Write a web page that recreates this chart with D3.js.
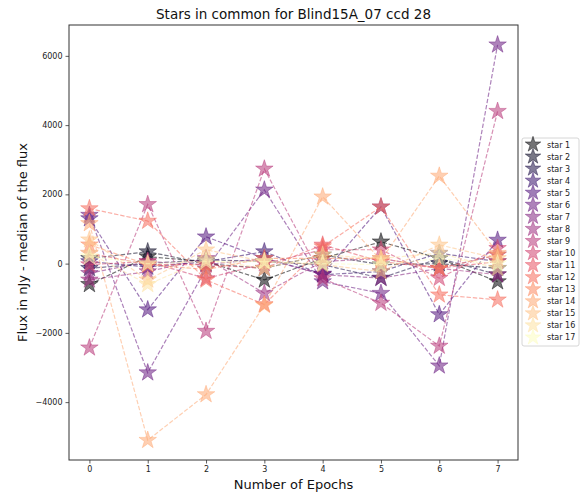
<!DOCTYPE html>
<html>
<head>
<meta charset="utf-8">
<script src="https://cdn.jsdelivr.net/npm/d3@7"></script>
<style>
  body { margin: 0; background: #fff; }
  text { font-family: "DejaVu Sans", sans-serif; }
</style>
</head>
<body>
<div id="chart"></div>
<script>
// epochs on the x axis
var epochs = [0, 1, 2, 3, 4, 5, 6, 7];
var starNames = ["star 1", "star 2", "star 3", "star 4", "star 5", "star 6", "star 7", "star 8", "star 9",
  "star 10", "star 11", "star 12", "star 13", "star 14", "star 15", "star 16", "star 17"];
var yTicks = [-4000, -2000, 0, 2000, 4000, 6000];

// flux - median, one array per star
var star1  = [-600, 200, 60, -470, 150, 630, 150, -520];
var star2  = [150, 345, 0, -135, 250, -30, 0, -135];
var star3  = [-135, 0, 115, 60, -30, -420, 150, -320];
var star4  = [60, -100, 60, 345, -320, -230, 300, 60];
var star5  = [1300, -1330, 775, 150, -300, 1640, -1470, 680];
var star6  = [1400, -3150, -150, 2130, -520, -855, -2950, 6320];
var star7  = [-280, 60, -30, 150, -320, -420, -135, 250];
var star8  = [-470, -230, 150, -855, 60, 150, -135, -320];
var star9  = [-2430, 1710, -1950, 2735, -430, -1140, -2380, 4400];
var star10 = [-30, 60, -430, 0, 400, 400, -420, 440];
var star11 = [300, -30, -30, -135, 540, 60, -135, 60];
var star12 = [1590, 1230, -470, -1180, 490, 1640, -900, -1045];
var star13 = [545, -30, -170, 150, 150, 150, -135, 250];
var star14 = [1160, -5100, -3780, -1200, 1930, 100, 2530, 300];
var star15 = [690, -470, 400, 60, -30, -230, 540, 150];
var star16 = [300, -600, 115, -135, 250, 150, 300, -135];
var star17 = [200, 0, 60, 60, 0, -30, 150, 0];

var fluxes = [star1, star2, star3, star4, star5, star6, star7, star8, star9,
  star10, star11, star12, star13, star14, star15, star16, star17];

(function drawChart () {
  var W = 587, H = 500;
  var margin = {top: 25, right: 69, bottom: 40, left: 69};
  var w = W - margin.left - margin.right;   // 449
  var h = H - margin.top - margin.bottom;   // 435

  var svg = d3.select("#chart").append("svg")
    .attr("width", W).attr("height", H);

  // matplotlib style autoscale: 5% padding on both sides
  var allVals = d3.merge(fluxes);
  var yMin = d3.min(allVals), yMax = d3.max(allVals);
  var pad = (yMax - yMin) * 0.05;

  var xScale = d3.scaleLinear()
    .domain([-0.35, 7.35])
    .range([0, w]);
  var yScale = d3.scaleLinear()
    .domain([yMin - pad, yMax + pad])
    .range([h, 0]);

  var colour = function (i) { return d3.interpolateMagma(i / (fluxes.length - 1)); };

  var g = svg.append("g")
    .attr("transform", "translate(" + margin.left + "," + margin.top + ")");

  g.append("clipPath").attr("id", "plotclip")
    .append("rect").attr("width", w).attr("height", h);

  var line = d3.line()
    .x(function (d, i) { return xScale(epochs[i]); })
    .y(function (d) { return yScale(d); });

  var star = d3.symbol().type(d3.symbolStar).size(95);

  var plot = g.append("g").attr("clip-path", "url(#plotclip)");

  fluxes.forEach(function (series, k) {
    var c = colour(k);
    var sg = plot.append("g");
    sg.append("path")
      .datum(series)
      .attr("d", line)
      .attr("fill", "none")
      .attr("stroke", c)
      .attr("stroke-opacity", 0.55)
      .attr("stroke-width", 1.2)
      .attr("stroke-dasharray", "4.4,1.9");
    sg.selectAll("path.mk")
      .data(series)
      .enter()
      .append("path")
      .attr("class", "mk")
      .attr("d", star)
      .attr("transform", function (d, i) {
        return "translate(" + xScale(epochs[i]) + "," + yScale(d) + ")";
      })
      .attr("fill", c)
      .attr("fill-opacity", 0.55)
      .attr("stroke", c)
      .attr("stroke-opacity", 0.55)
      .attr("stroke-width", 0.8);
  });

  // axes
  var xAxis = g.append("g")
    .attr("transform", "translate(0," + h + ")")
    .call(d3.axisBottom(xScale).tickValues(epochs).tickSize(3.5).tickPadding(3));
  var yAxis = g.append("g")
    .call(d3.axisLeft(yScale).tickValues(yTicks).tickSize(3.5).tickPadding(3)
      .tickFormat(function (d) { return d < 0 ? "\u2212" + Math.abs(d) : d; }));

  [xAxis, yAxis].forEach(function (ax) {
    ax.select(".domain").remove();
    ax.selectAll("line").attr("stroke", "#333").attr("stroke-width", 0.8);
    ax.selectAll("text").attr("font-size", 8).attr("fill", "#222")
      .style("font-family", "DejaVu Sans, sans-serif");
  });

  // frame
  g.append("rect")
    .attr("width", w).attr("height", h)
    .attr("fill", "none")
    .attr("stroke", "#333")
    .attr("stroke-width", 1);

  // titles
  svg.append("text")
    .attr("x", margin.left + w / 2).attr("y", 19)
    .attr("text-anchor", "middle")
    .attr("font-size", 13.5)
    .attr("fill", "#111")
    .text("Stars in common for Blind15A_07 ccd 28");

  svg.append("text")
    .attr("x", margin.left + w / 2).attr("y", 489)
    .attr("text-anchor", "middle")
    .attr("font-size", 13)
    .attr("fill", "#111")
    .text("Number of Epochs");

  svg.append("text")
    .attr("transform", "translate(27," + (margin.top + h / 2) + ") rotate(-90)")
    .attr("text-anchor", "middle")
    .attr("font-size", 13)
    .attr("fill", "#111")
    .text("Flux in nJy - median of the flux");

  // legend
  var lg = svg.append("g").attr("transform", "translate(522,138)");
  lg.append("rect")
    .attr("width", 57).attr("height", 208)
    .attr("rx", 2)
    .attr("fill", "#fff").attr("fill-opacity", 0.8)
    .attr("stroke", "#ccc").attr("stroke-width", 0.8);

  var rows = lg.selectAll("g.row")
    .data(starNames)
    .enter()
    .append("g")
    .attr("class", "row")
    .attr("transform", function (d, i) { return "translate(0," + (6.5 + i * 12.06) + ")"; });

  rows.append("path")
    .attr("d", d3.symbol().type(d3.symbolStar).size(75))
    .attr("transform", "translate(11,0)")
    .attr("fill", function (d, i) { return colour(i); })
    .attr("fill-opacity", 0.55)
    .attr("stroke", function (d, i) { return colour(i); })
    .attr("stroke-opacity", 0.55)
    .attr("stroke-width", 0.8);

  rows.append("text")
    .attr("x", 25).attr("y", 3)
    .attr("font-size", 8)
    .attr("fill", "#222")
    .text(function (d) { return d; });
})();
</script>
</body>
</html>
